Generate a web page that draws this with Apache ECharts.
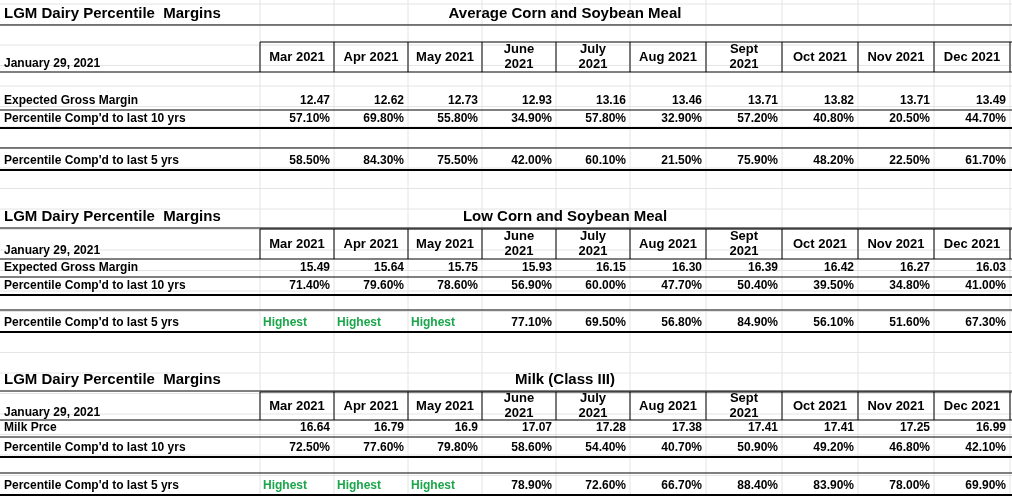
<!DOCTYPE html>
<html><head><meta charset="utf-8">
<script src="https://cdn.jsdelivr.net/npm/echarts@6/dist/echarts.min.js"></script>
<style>html,body{margin:0;background:#fff}#c{width:1012px;height:496px}</style>
</head><body><div id="c"></div>
<script>
var chart = echarts.init(document.getElementById('c'));

var months = ['Mar 2021', 'Apr 2021', 'May 2021', 'June\n2021', 'July\n2021', 'Aug 2021', 'Sept\n2021', 'Oct 2021', 'Nov 2021', 'Dec 2021'];
var dateLabel = 'January 29, 2021';
var mainTitle = 'LGM Dairy Percentile  Margins';

var avgTitle = 'Average Corn and Soybean Meal';
var avgLabels = ['Expected Gross Margin', "Percentile Comp'd to last 10 yrs", "Percentile Comp'd to last 5 yrs"];
var avgMargin = ['12.47', '12.62', '12.73', '12.93', '13.16', '13.46', '13.71', '13.82', '13.71', '13.49'];
var avgPct10 = ['57.10%', '69.80%', '55.80%', '34.90%', '57.80%', '32.90%', '57.20%', '40.80%', '20.50%', '44.70%'];
var avgPct5 = ['58.50%', '84.30%', '75.50%', '42.00%', '60.10%', '21.50%', '75.90%', '48.20%', '22.50%', '61.70%'];

var lowTitle = 'Low Corn and Soybean Meal';
var lowMargin = ['15.49', '15.64', '15.75', '15.93', '16.15', '16.30', '16.39', '16.42', '16.27', '16.03'];
var lowPct10 = ['71.40%', '79.60%', '78.60%', '56.90%', '60.00%', '47.70%', '50.40%', '39.50%', '34.80%', '41.00%'];
var lowPct5 = ['Highest', 'Highest', 'Highest', '77.10%', '69.50%', '56.80%', '84.90%', '56.10%', '51.60%', '67.30%'];

var milkTitle = 'Milk (Class III)';
var milkLabels = ['Milk Prce', "Percentile Comp'd to last 10 yrs", "Percentile Comp'd to last 5 yrs"];
var milkPrice = ['16.64', '16.79', '16.9', '17.07', '17.28', '17.38', '17.41', '17.41', '17.25', '16.99'];
var milkPct10 = ['72.50%', '77.60%', '79.80%', '58.60%', '54.40%', '40.70%', '50.90%', '49.20%', '46.80%', '42.10%'];
var milkPct5 = ['Highest', 'Highest', 'Highest', '78.90%', '72.60%', '66.70%', '88.40%', '83.90%', '78.00%', '69.90%'];

// column edges
var edges = [260, 334, 408, 482, 556, 630, 706, 782, 858, 934, 1010];
var FONT = 'Liberation Sans, Arial, sans-serif';
var g = [];

function txt(x, y, s, opt) {
  opt = opt || {};
  g.push({type: 'text', x: x, y: y, style: {text: s, font: 'bold ' + (opt.size || 13) + 'px ' + FONT,
    fill: opt.fill || '#000', align: opt.align || 'left', verticalAlign: 'middle', lineHeight: 15}});
}
function line(x1, y1, x2, y2, w, c) {
  g.push({type: 'line', shape: {x1: x1, y1: y1, x2: x2, y2: y2}, style: {stroke: c || '#000', lineWidth: w || 1}});
}

// light spreadsheet gridlines
for (var y = 4; y < 496; y += 20.5) line(0, y, 1012, y, 1, '#e4e4e4');
for (var i = 0; i < edges.length; i++) line(edges[i], 0, edges[i], 496, 1, '#e4e4e4');

function section(o) {
  txt(4, o.title, mainTitle, {size: 15});
  txt(565, o.title, o.name, {size: 15, align: 'center'});
  line(0, o.top, 1012, o.top, 1);
  line(0, o.hb, 1012, o.hb, 1);
  txt(4, o.date, dateLabel, {size: 12});
  for (var i = 0; i < 10; i++) {
    var cx = (edges[i] + edges[i + 1]) / 2;
    txt(cx, o.head, months[i], {align: 'center'});
    line(edges[i + 1], o.ht, edges[i + 1], o.hb, 1);
    var rx = edges[i + 1] - 4;
    txt(rx, o.r1, o.v1[i], {size: 12, align: 'right'});
    txt(rx, o.r2, o.v2[i], {size: 12, align: 'right'});
    var hi = o.v3[i] === 'Highest';
    txt(hi ? edges[i] + 3 : rx, o.r3, o.v3[i], {size: 12, align: hi ? 'left' : 'right', fill: hi ? '#1aa64a' : '#000'});
  }
  line(edges[0], o.ht, edges[0], o.hb, 1);
  line(edges[0], o.ht, 1012, o.ht, 1);
  txt(4, o.r1, o.labels[0], {size: 12});
  txt(4, o.r2, o.labels[1], {size: 12});
  txt(4, o.r3, o.labels[2], {size: 12});
  line(0, o.r1 + 9, 1012, o.r1 + 9, 1);
  line(0, o.r2 + 9, 1012, o.r2 + 9, 2);
  line(0, o.r3 - 13, 1012, o.r3 - 13, 1);
  line(0, o.r3 + 9, 1012, o.r3 + 9, 2);
}

section({title: 14, name: avgTitle, top: 25, ht: 42, hb: 72, head: 57, date: 64, r1: 101, r2: 119, r3: 161,
  labels: avgLabels, v1: avgMargin, v2: avgPct10, v3: avgPct5});
section({title: 217, name: lowTitle, top: 228, ht: 229, hb: 259, head: 244, date: 251, r1: 268, r2: 286, r3: 323,
  labels: avgLabels, v1: lowMargin, v2: lowPct10, v3: lowPct5});
section({title: 380, name: milkTitle, top: 391, ht: 392, hb: 420, head: 406, date: 413, r1: 428, r2: 448, r3: 486,
  labels: milkLabels, v1: milkPrice, v2: milkPct10, v3: milkPct5});

chart.setOption({animation: false, graphic: {elements: g}});
</script>
</body></html>
